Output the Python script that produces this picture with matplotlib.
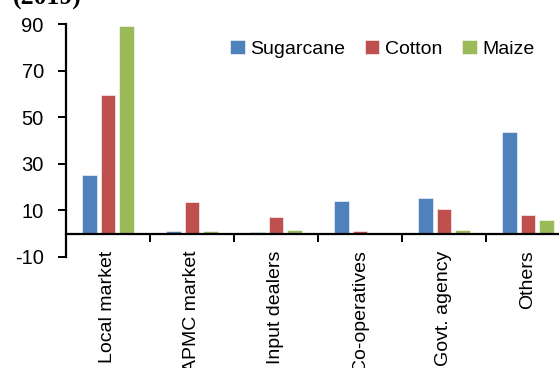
import numpy as np
import matplotlib
matplotlib.use("Agg")
import matplotlib.pyplot as plt
from matplotlib.ticker import FixedLocator, NullFormatter

categories = ["Local market", "APMC market", "Input dealers", "Co-operatives",
              "Govt. agency", "Others"]
sugarcane = [25.3, 1.3, 0.7, 14.1, 15.3, 43.6]
cotton = [59.6, 13.8, 7.1, 1.2, 10.6, 7.9]
maize = [89.0, 1.0, 1.5, 0.0, 1.7, 6.0]
series = [("Sugarcane", sugarcane, "#4F81BD"),
          ("Cotton", cotton, "#C0504D"),
          ("Maize", maize, "#9BBB59")]
y_ticks = [-10, 10, 30, 50, 70, 90]

plt.rcParams["font.family"] = ["Liberation Sans", "DejaVu Sans"]
plt.rcParams["axes.unicode_minus"] = False

fig = plt.figure(figsize=(5.59, 3.68), dpi=100)
# plot area runs past the right edge, as in the cropped original
ax = fig.add_axes([66 / 559, 111 / 368, 504 / 559, 233 / 368])

x = np.arange(len(categories))
width = 0.175
step = 0.222
for i, (name, vals, color) in enumerate(series):
    ax.bar(x + (i - 1) * step, vals, width, color=color, label=name,
           edgecolor="#ffffff", linewidth=0.4, zorder=2)

ax.set_xlim(-0.5, len(categories) - 0.5)
ax.set_ylim(-10, 90)
ax.set_yticks(y_ticks)
ax.tick_params(axis="y", labelsize=14.5, length=6, width=1.4, pad=10)

for side in ("top", "right"):
    ax.spines[side].set_visible(False)
ax.spines["left"].set_linewidth(1.6)
ax.spines["bottom"].set_linewidth(1.6)
ax.spines["bottom"].set_position(("data", 0))

ax.set_xticks(x)
ax.set_xticklabels(categories, rotation=90, fontsize=14, va="top", ha="center")
ax.tick_params(axis="x", which="major", length=0, pad=12)
ax.xaxis.set_minor_locator(FixedLocator(x[:-1] + 0.5))
ax.xaxis.set_minor_formatter(NullFormatter())
ax.tick_params(axis="x", which="minor", length=6, width=1.4, direction="out")

ax.legend(loc="upper left", bbox_to_anchor=(0.31, 0.965), ncol=3, frameon=False,
          fontsize=14, handlelength=0.75, handleheight=0.75, handletextpad=0.3,
          columnspacing=1.0, borderaxespad=0)

fig.text(13 / 559, 1 - 5 / 368, "(2019)", fontsize=18.5, fontweight="bold",
         family="Liberation Serif", ha="left", va="baseline")

fig.savefig("out.png", dpi=100)
